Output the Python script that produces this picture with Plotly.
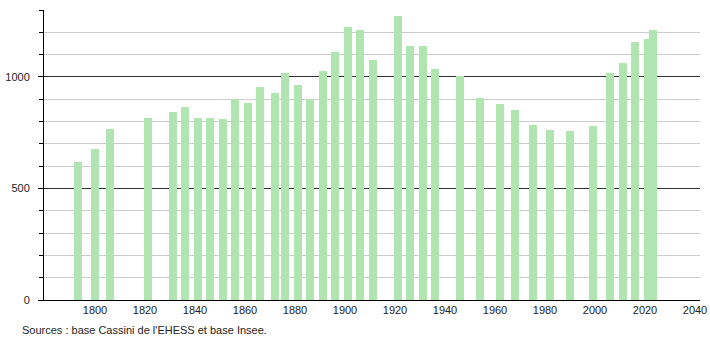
import plotly.graph_objects as go

years = [1793, 1800, 1806, 1821, 1831, 1836, 1841, 1846, 1851, 1856, 1861, 1866,
         1872, 1876, 1881, 1886, 1891, 1896, 1901, 1906, 1911, 1921, 1926, 1931,
         1936, 1946, 1954, 1962, 1968, 1975, 1982, 1990, 1999, 2006, 2011, 2016,
         2021, 2023]
population = [620, 678, 768, 816, 842, 866, 816, 816, 813, 899, 884, 954,
              926, 1016, 962, 899, 1028, 1111, 1225, 1209, 1074, 1272, 1137, 1137,
              1034, 1004, 906, 878, 852, 785, 764, 758, 782, 1016, 1061, 1156,
              1172, 1212]
x_ticks = [1800, 1820, 1840, 1860, 1880, 1900, 1920, 1940, 1960, 1980, 2000, 2020, 2040]
y_ticks = [0, 500, 1000]
source_text = "Sources : base Cassini de l'EHESS et base Insee."

FONT = "Liberation Sans, Arial, sans-serif"

fig = go.Figure()
fig.add_trace(go.Bar(
    x=years, y=population, width=3.2,
    marker=dict(color="rgb(176,228,176)", line=dict(width=0)),
    hoverinfo="x+y",
))

fig.update_layout(
    width=710, height=340,
    margin=dict(l=44, r=10, t=10, b=40),
    paper_bgcolor="white", plot_bgcolor="white",
    showlegend=False,
    font=dict(family=FONT, size=11, color="#222"),
    bargap=0,
    xaxis=dict(
        range=[1779.6, 2042], tickvals=x_ticks, ticks="",
        automargin=False,
        showgrid=False, zeroline=False,
        showline=True, linecolor="black", linewidth=1,
        tickfont=dict(family=FONT, size=11, color="#222"),
    ),
    yaxis=dict(
        range=[0, 1300], tickvals=y_ticks,
        automargin=False,
        ticks="outside", ticklen=5, tickcolor="black",
        ticklabelstandoff=6,
        showgrid=True, gridcolor="#333", gridwidth=1,
        zeroline=False,
        showline=True, linecolor="black", linewidth=1,
        tickfont=dict(family=FONT, size=11, color="#222"),
        minor=dict(dtick=100, ticks="outside", ticklen=4, tickcolor="black",
                   showgrid=True, gridcolor="#cccccc", gridwidth=1),
    ),
    annotations=[dict(
        text=source_text, xref="paper", yref="paper",
        x=-24 / 656, y=-30 / 290, xanchor="left", yanchor="middle",
        showarrow=False, font=dict(family=FONT, size=11, color="#222"),
    )],
)

fig.write_html("out.html")
